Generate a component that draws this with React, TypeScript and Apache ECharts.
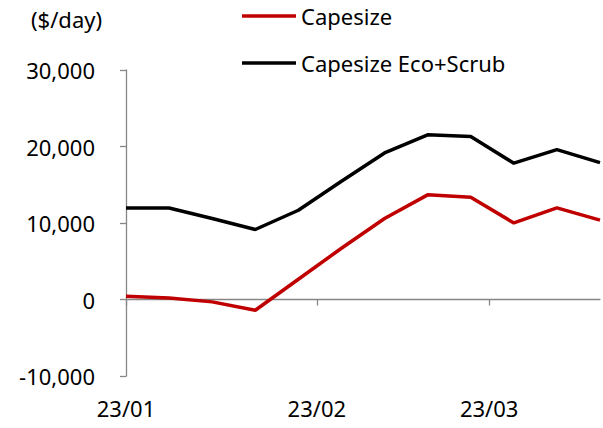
import React, { useEffect, useRef } from "react";
import * as echarts from "echarts";

const dates = [
  "2023-01-01", "2023-01-08", "2023-01-15", "2023-01-22", "2023-01-29",
  "2023-02-05", "2023-02-12", "2023-02-19", "2023-02-26",
  "2023-03-05", "2023-03-12", "2023-03-19",
];
const capesize = [430, 210, -310, -1400, 2650, 6700, 10590, 13680, 13370, 10010, 11980, 10370];
const ecoScrub = [11970, 11970, 10590, 9150, 11670, 15450, 19160, 21520, 21300, 17820, 19600, 17900];
const monthTicks = ["2023-01-01", "2023-02-01", "2023-03-01"];
const seriesNames = ["Capesize", "Capesize Eco+Scrub"];
const unitLabel = "($/day)";

const DAY = 86400000;
const toTs = (s: string) => {
  const [y, m, d] = s.split("-").map(Number);
  return Date.UTC(y, m - 1, d);
};
const BASE = toTs(dates[0]);
const toDay = (s: string) => Math.round((toTs(s) - BASE) / DAY);

const FONT = "'Noto Sans', sans-serif";
const AXIS_COLOR = "#868686";

export default function App() {
  const ref = useRef<HTMLDivElement>(null);
  useEffect(() => {
    if (!ref.current) return;
    const chart = echarts.init(ref.current, undefined, { renderer: "svg" });
    const xMin = 0;
    const xMax = toDay(dates[dates.length - 1]);
    const tickVals = monthTicks.map(toDay);
    const fmt = (v: number) => {
      const d = new Date(BASE + v * DAY);
      return `${String(d.getUTCFullYear()).slice(2)}/${String(d.getUTCMonth() + 1).padStart(2, "0")}`;
    };
    chart.setOption({
      animation: false,
      textStyle: { fontFamily: FONT },
      grid: { left: 126, right: 3, top: 70, bottom: 52, containLabel: false },
      legend: {
        orient: "vertical",
        left: 242,
        top: 0,
        padding: 0,
        itemGap: 15,
        itemWidth: 54,
        itemHeight: 3.5,
        icon: "rect",
        data: seriesNames,
        textStyle: { fontSize: 22, fontFamily: FONT, color: "#000", lineHeight: 28, padding: [4, 0, 0, 0] },
      },
      graphic: [
        {
          type: "text",
          left: 31,
          top: 8,
          style: { text: unitLabel, fontSize: 22, fontFamily: FONT, fill: "#000" },
        },
      ],
      xAxis: [
        {
          type: "value",
          min: xMin,
          max: xMax,
          axisLine: { onZero: true, lineStyle: { color: AXIS_COLOR, width: 1.3 } },
          axisTick: { show: true, length: 6, customValues: tickVals, lineStyle: { color: AXIS_COLOR, width: 1.3 } },
          axisLabel: { show: false },
          splitLine: { show: false },
        },
        {
          type: "value",
          position: "bottom",
          min: xMin,
          max: xMax,
          axisLine: { show: false, onZero: false },
          axisTick: { show: false },
          splitLine: { show: false },
          axisLabel: {
            show: true,
            customValues: tickVals,
            formatter: fmt,
            fontSize: 22,
            fontFamily: FONT,
            color: "#000",
            margin: 21,
          },
        },
      ],
      yAxis: {
        type: "value",
        min: -10000,
        max: 30000,
        interval: 10000,
        axisLine: { show: true, lineStyle: { color: AXIS_COLOR, width: 1.3 } },
        axisTick: { show: true, length: 6, lineStyle: { color: AXIS_COLOR, width: 1.3 } },
        splitLine: { show: false },
        axisLabel: {
          fontSize: 22,
          fontFamily: FONT,
          color: "#000",
          margin: 31,
          formatter: (v: number) => v.toLocaleString("en-US"),
        },
      },
      series: [
        {
          name: seriesNames[0],
          type: "line",
          xAxisIndex: 0,
          data: dates.map((d, i) => [toDay(d), capesize[i]]),
          symbol: "none",
          lineStyle: { color: "#C00000", width: 3.5 },
          itemStyle: { color: "#C00000" },
          z: 3,
        },
        {
          name: seriesNames[1],
          type: "line",
          xAxisIndex: 0,
          data: dates.map((d, i) => [toDay(d), ecoScrub[i]]),
          symbol: "none",
          lineStyle: { color: "#000000", width: 3.5 },
          itemStyle: { color: "#000000" },
          z: 2,
        },
      ],
    });
    return () => chart.dispose();
  }, []);
  return <div ref={ref} style={{ position: "absolute", left: 0, top: 0, width: 603, height: 428 }} />;
}
